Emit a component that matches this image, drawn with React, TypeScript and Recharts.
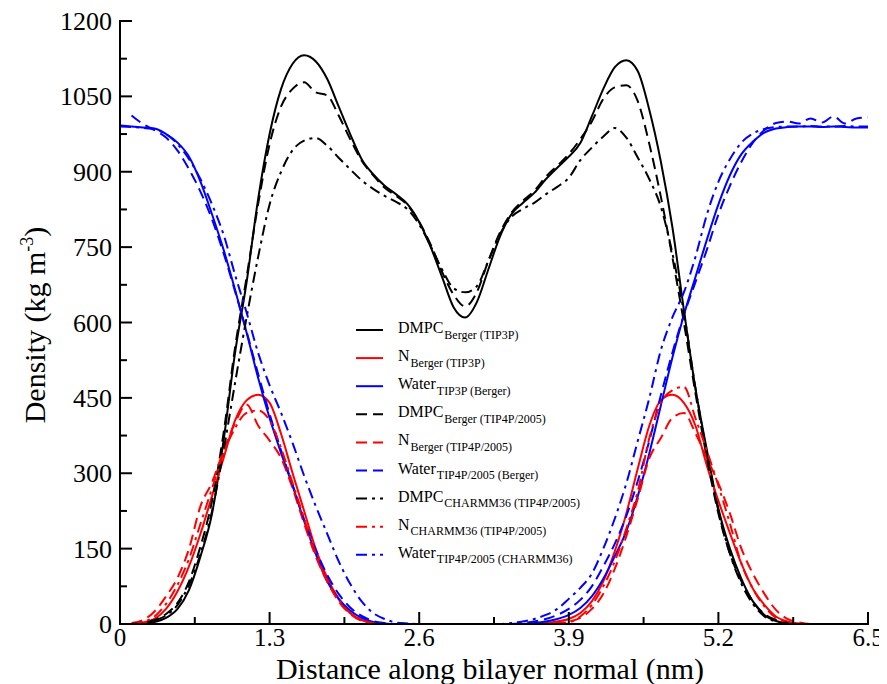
import React from 'react'
import { LineChart, Line, XAxis, YAxis, Legend } from 'recharts'

const FONT = '"Liberation Serif", "Times New Roman", serif'

// x positions (nm)
const distance = [
  0, 0.1, 0.2, 0.3, 0.4, 0.5, 0.6, 0.7, 0.8, 0.9,
  1.0, 1.1, 1.2, 1.3, 1.4, 1.5, 1.6, 1.7, 1.8, 1.9,
  2.0, 2.1, 2.2, 2.3, 2.4, 2.5, 2.6, 2.7, 2.8, 2.9,
  3.0, 3.1, 3.2, 3.3, 3.4, 3.5, 3.6, 3.7, 3.8, 3.9,
  4.0, 4.1, 4.2, 4.3, 4.4, 4.5, 4.6, 4.7, 4.8, 4.9,
  5.0, 5.1, 5.2, 5.3, 5.4, 5.5, 5.6, 5.7, 5.8, 5.9,
  6.0, 6.1, 6.2, 6.3, 6.4, 6.5,
]

// densities (kg m^-3)
const dmpcBergerTip3p = [
  null, 0, 1, 4, 12, 30, 68, 135, 220, 365,
  540, 680, 845, 975, 1065, 1115, 1132, 1120, 1085, 1030,
  975, 925, 895, 872, 855, 835, 800, 750, 690, 630,
  610, 640, 705, 770, 815, 838, 858, 885, 908, 930,
  957, 1010, 1065, 1108, 1122, 1100, 1023, 920, 790, 625,
  470, 346, 230, 150, 90, 45, 18, 6, 2, 0,
  0, null, null, null, null, null,
]
const nBergerTip3p = [
  null, 0, 3, 10, 30, 65, 115, 180, 255, 330,
  405, 445, 456, 440, 378, 300, 225, 150, 92, 50,
  22, 8, 2, 0, 0, 0, 0, 0, 0, 0,
  0, 0, 0, 0, 0, 0, 0, 2, 5, 10,
  22, 45, 85, 145, 220, 310, 395, 445, 456, 440,
  395, 315, 245, 181, 120, 70, 38, 15, 5, 1,
  0, 0, 0, 0, 0, 0,
]
const waterTip3pBerger = [
  992, 990, 988, 986, 975, 958, 930, 880, 815, 745,
  665, 580, 490, 410, 340, 275, 205, 140, 85, 50,
  27, 12, 4, 1, 0, 0, 0, 0, 0, 0,
  0, 0, 0, 0, 0, 0, 2, 5, 10, 18,
  32, 55, 90, 135, 185, 255, 340, 435, 530, 615,
  690, 765, 835, 893, 935, 960, 978, 986, 989, 990,
  990, 989, 990, 989, 988, 988,
]
const dmpcBergerTip4p = [
  null, 0, 3, 8, 20, 42, 85, 155, 245, 380,
  550, 690, 835, 955, 1030, 1065, 1078, 1058, 1052, 1012,
  965, 922, 893, 868, 852, 833, 800, 755, 700, 655,
  632, 660, 722, 778, 818, 842, 862, 890, 912, 935,
  965, 1000, 1045, 1068, 1072, 1040, 955, 850, 730, 600,
  460, 330, 220, 140, 85, 45, 20, 8, 2, 0,
  0, null, null, null, null, null,
]
const nBergerTip4p = [
  null, 2, 8, 25, 55, 92, 150, 235, 282, 345,
  400, 437, 395, 365, 330, 270, 200, 135, 85, 45,
  20, 6, 1, 0, 0, 0, 0, 0, 0, 0,
  0, 0, 0, 0, 0, 0, 0, 0, 2, 5,
  12, 30, 60, 110, 175, 250, 330, 370, 410, 420,
  380, 330, 280, 220, 150, 100, 60, 28, 10, 3,
  0, 0, 0, 0, 0, 0,
]
const waterTip4pBerger = [
  null, 1012, 995, 983, 968, 942, 905, 860, 805, 738,
  662, 582, 498, 418, 345, 277, 208, 148, 98, 60,
  33, 16, 6, 2, 0, 0, 0, 0, 0, 0,
  0, 0, 0, 0, 0, 2, 5, 10, 18, 30,
  48, 75, 115, 160, 215, 285, 365, 455, 540, 615,
  680, 745, 815, 872, 920, 958, 983, 997, 1000, 996,
  1006, 998, 1010, 996, 1006, 1008,
]
const dmpcCharmmTip4p = [
  null, 0, 3, 7, 17, 38, 78, 140, 225, 345,
  480, 610, 730, 835, 900, 943, 962, 967, 952, 928,
  905, 883, 866, 852, 840, 825, 795, 752, 705, 668,
  660, 672, 722, 775, 810, 826, 838, 855, 870, 888,
  923, 948, 970, 987, 968, 928, 885, 830, 738, 620,
  470, 340, 225, 140, 80, 40, 15, 5, 1, 0,
  0, null, null, null, null, null,
]
const nCharmmTip4p = [
  null, 0, 4, 15, 40, 78, 130, 200, 270, 340,
  390, 420, 425, 405, 350, 280, 210, 140, 85, 48,
  22, 8, 2, 0, 0, 0, 0, 0, 0, 0,
  0, 0, 0, 0, 0, 0, 0, 0, 1, 3,
  15, 38, 75, 125, 190, 265, 370, 440, 465, 472,
  410, 345, 275, 200, 120, 70, 35, 12, 3, 0,
  0, 0, 0, 0, 0, 0,
]
const waterTip4pCharmm = [
  990, 989, 987, 984, 975, 955, 925, 885, 835, 775,
  695, 620, 540, 475, 420, 360, 295, 235, 180, 125,
  80, 45, 22, 10, 3, 1, 0, 0, 0, 0,
  0, 0, 0, 0, 2, 5, 10, 18, 30, 50,
  72, 100, 150, 210, 280, 365, 450, 545, 610, 660,
  730, 815, 880, 925, 958, 976, 985, 989, 990, 990,
  991, 990, 990, 991, 990, 990,
]

const xTicks = [0, 0.65, 1.3, 1.95, 2.6, 3.25, 3.9, 4.55, 5.2, 5.85, 6.5]
const yTicks = [0, 75, 150, 225, 300, 375, 450, 525, 600, 675, 750, 825, 900, 975, 1050, 1125, 1200]

const DASHED = '11 6'
const DASHDOT = '11 5 3 5'

const series = [
  { key: 'dmpcBergerTip3p', values: dmpcBergerTip3p, label: 'DMPC', sub: 'Berger (TIP3P)', color: '#000000', dash: undefined },
  { key: 'nBergerTip3p', values: nBergerTip3p, label: 'N', sub: 'Berger (TIP3P)', color: '#ff0000', dash: undefined },
  { key: 'waterTip3pBerger', values: waterTip3pBerger, label: 'Water', sub: 'TIP3P (Berger)', color: '#0000ff', dash: undefined },
  { key: 'dmpcBergerTip4p', values: dmpcBergerTip4p, label: 'DMPC', sub: 'Berger (TIP4P/2005)', color: '#000000', dash: DASHED },
  { key: 'nBergerTip4p', values: nBergerTip4p, label: 'N', sub: 'Berger (TIP4P/2005)', color: '#ff0000', dash: DASHED },
  { key: 'waterTip4pBerger', values: waterTip4pBerger, label: 'Water', sub: 'TIP4P/2005 (Berger)', color: '#0000ff', dash: DASHED },
  { key: 'dmpcCharmmTip4p', values: dmpcCharmmTip4p, label: 'DMPC', sub: 'CHARMM36 (TIP4P/2005)', color: '#000000', dash: DASHDOT },
  { key: 'nCharmmTip4p', values: nCharmmTip4p, label: 'N', sub: 'CHARMM36 (TIP4P/2005)', color: '#ff0000', dash: DASHDOT },
  { key: 'waterTip4pCharmm', values: waterTip4pCharmm, label: 'Water', sub: 'TIP4P/2005 (CHARMM36)', color: '#0000ff', dash: DASHDOT },
]

const chartData = distance.map((x, i) => {
  const row: Record<string, number | null> = { x }
  series.forEach((s) => {
    row[s.key] = s.values[i]
  })
  return row
})

const isMajor = (v: number, step: number) => Math.abs(v / step - Math.round(v / step)) < 1e-6

// ticks point into the plot, labels sit outside
const BottomTick = ({ x, y, payload }: any) => {
  const major = isMajor(payload.value, 1.3)
  return (
    <g>
      <line x1={x} y1={y} x2={x} y2={y - (major ? 12 : 7)} stroke="#000" strokeWidth={2} />
      {major && (
        <text x={x} y={y + 22} textAnchor="middle" fontSize={25} fontFamily={FONT} fill="#000">
          {payload.value}
        </text>
      )}
    </g>
  )
}

const TopTick = ({ x, y, payload }: any) => {
  const major = isMajor(payload.value, 1.3)
  return <line x1={x} y1={y} x2={x} y2={y + (major ? 12 : 7)} stroke="#000" strokeWidth={2} />
}

const LeftTick = ({ x, y, payload }: any) => {
  const major = isMajor(payload.value, 150)
  return (
    <g>
      <line x1={x} y1={y} x2={x + (major ? 12 : 7)} y2={y} stroke="#000" strokeWidth={2} />
      {major && (
        <text x={x - 8} y={y + 9} textAnchor="end" fontSize={26} fontFamily={FONT} fill="#000">
          {payload.value}
        </text>
      )}
    </g>
  )
}

const RightTick = ({ x, y, payload }: any) => {
  const major = isMajor(payload.value, 150)
  return <line x1={x} y1={y} x2={x - (major ? 12 : 7)} y2={y} stroke="#000" strokeWidth={2} />
}

const axisLine = { stroke: '#000', strokeWidth: 2, strokeLinecap: 'square' as const }

const renderLegend = () => (
  <svg width={280} height={260} style={{ overflow: 'visible' }}>
    {series.map((s, i) => {
      const cy = 20 + i * 28.1
      return (
        <g key={s.key}>
          <line x1={6} x2={33} y1={cy} y2={cy} stroke={s.color} strokeWidth={2} strokeDasharray={s.dash} />
          <text x={48} y={cy + 3} fontFamily={FONT} fontSize={16} fill="#000">
            {s.label}
            <tspan dx={1} dy={5.5} fontSize={12}>
              {s.sub}
            </tspan>
          </text>
        </g>
      )
    })}
  </svg>
)

export default function App() {
  return (
    <div style={{ width: 879, height: 676, background: '#fff', fontFamily: FONT }}>
      <style>{'html, body { overflow: hidden; }'}</style>
      <LineChart
        width={879}
        height={676}
        data={chartData}
        margin={{ top: 13, right: 19, bottom: 0, left: 0 }}
        style={{ overflow: 'visible' }}
      >
        <XAxis
          dataKey="x"
          type="number"
          domain={[0, 6.5]}
          ticks={xTicks}
          interval={0}
          height={60}
          allowDataOverflow
          axisLine={axisLine}
          tickLine={false}
          tickSize={0}
          tickMargin={0}
          tick={<BottomTick />}
          label={{
            content: ({ viewBox }: any) => (
              <text
                x={viewBox.x + viewBox.width / 2 - 4}
                y={viewBox.y + 55}
                textAnchor="middle"
                fontSize={30}
                fontFamily={FONT}
                fill="#000"
              >
                Distance along bilayer normal (nm)
              </text>
            ),
          }}
        />
        <XAxis
          xAxisId="top"
          orientation="top"
          dataKey="x"
          type="number"
          domain={[0, 6.5]}
          ticks={xTicks}
          interval={0}
          height={0}
          axisLine={axisLine}
          tickLine={false}
          tickSize={0}
          tickMargin={0}
          tick={<TopTick />}
        />
        <YAxis
          type="number"
          domain={[0, 1200]}
          ticks={yTicks}
          interval={0}
          width={112}
          allowDataOverflow
          axisLine={axisLine}
          tickLine={false}
          tickSize={0}
          tickMargin={0}
          tick={<LeftTick />}
          label={{
            content: () => (
              <text transform="translate(37, 317) rotate(-90)" textAnchor="middle" fontSize={30} fontFamily={FONT} fill="#000">
                Density (kg m
                <tspan dy={-12} fontSize={18}>
                  -3
                </tspan>
                <tspan dy={12}>)</tspan>
              </text>
            ),
          }}
        />
        <YAxis
          yAxisId="right"
          orientation="right"
          type="number"
          domain={[0, 1200]}
          ticks={yTicks}
          interval={0}
          width={0}
          axisLine={axisLine}
          tickLine={false}
          tickSize={0}
          tickMargin={0}
          tick={<RightTick />}
        />
        <Legend
          layout="vertical"
          align="center"
          verticalAlign="middle"
          content={renderLegend}
          wrapperStyle={{ left: 342, top: 302, width: 280, height: 260 }}
        />
        {series.map((s) => (
          <Line
            key={s.key}
            dataKey={s.key}
            type="monotone"
            stroke={s.color}
            strokeWidth={2}
            strokeDasharray={s.dash}
            dot={false}
            activeDot={false}
            legendType="none"
            isAnimationActive={false}
          />
        ))}
      </LineChart>
    </div>
  )
}
